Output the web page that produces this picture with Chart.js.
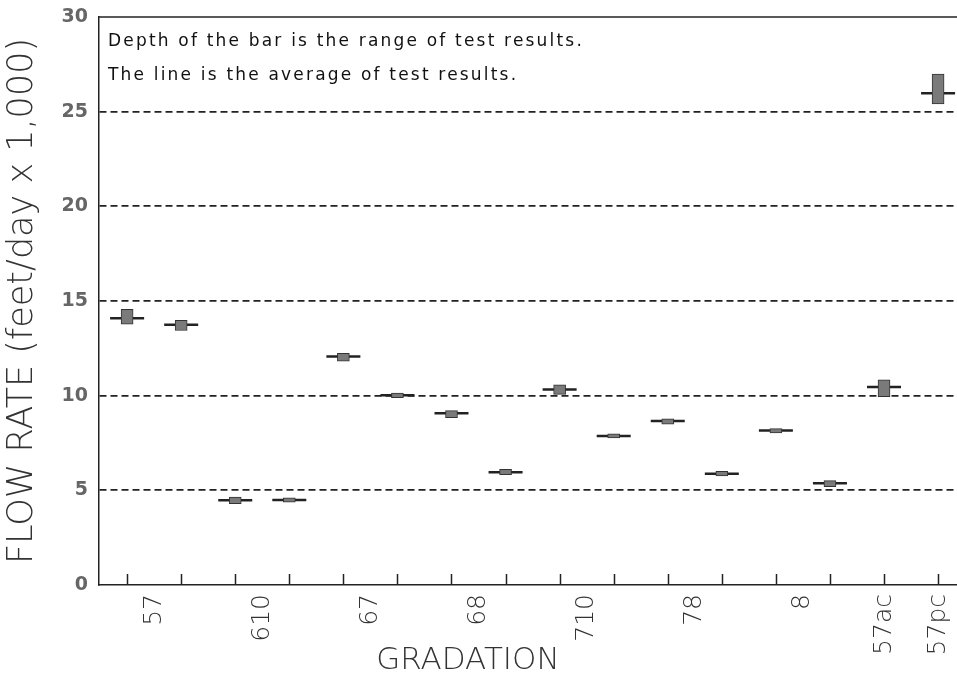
<!DOCTYPE html>
<html>
<head>
<meta charset="utf-8">
<script src="https://cdn.jsdelivr.net/npm/chart.js@4"></script>
<style>
  body { margin: 0; background: #fff; }
  #wrap { width: 957px; height: 677px; }
</style>
</head>
<body>
<div id="wrap"><canvas id="flowChart"></canvas></div>
<script>
// gradations, and how many test bars each one has
const gradations = ["57", "610", "67", "68", "710", "78", "8", "57ac", "57pc"];
const barsPerGradation = [2, 2, 2, 2, 2, 2, 2, 1, 1];

// flow rate (feet/day x 1,000), one entry per bar
const rangeLow  = [13.77, 13.44, 4.30, 4.38, 11.82, 9.90, 8.84, 5.83, 10.07, 7.77, 8.49, 5.76, 8.03, 5.20, 9.95, 25.41];
const rangeHigh = [14.56, 13.98, 4.65, 4.60, 12.24, 10.14, 9.21, 6.11, 10.57, 7.98, 8.77, 6.01, 8.26, 5.51, 10.83, 26.98];
const average   = [14.09, 13.75, 4.47, 4.49, 12.07, 10.02, 9.07, 5.95, 10.32, 7.87, 8.66, 5.88, 8.16, 5.37, 10.46, 25.97];

const yTicks = [0, 5, 10, 15, 20, 25, 30];
const notes = [
  "Depth of the bar is the range of test results.",
  "The line is the average of test results."
];

// label sits in the middle of its group of bars
const labelPos = [];
let start = 0;
barsPerGradation.forEach(n => {
  labelPos.push(start + (n - 1) / 2);
  start += n;
});
const barIdx = rangeLow.map((_, i) => i);

const framePlugin = {
  id: "frame",
  beforeDatasetsDraw(chart) {
    const { ctx, chartArea, scales } = chart;
    ctx.save();
    ctx.strokeStyle = "#222";
    ctx.lineWidth = 1.5;
    // inward tick marks on the x axis
    barIdx.forEach(i => {
      const x = Math.round(scales.x.getPixelForValue(i)) + 0.5;
      ctx.beginPath();
      ctx.moveTo(x, chartArea.bottom);
      ctx.lineTo(x, chartArea.bottom - 11);
      ctx.stroke();
    });
    // top border
    ctx.beginPath();
    ctx.moveTo(chartArea.left, chartArea.top);
    ctx.lineTo(chartArea.right, chartArea.top);
    ctx.stroke();

    // gradation labels, rotated, reading upward
    ctx.fillStyle = "#333";
    ctx.font = "200 25px 'DejaVu Sans'";
    ctx.textAlign = "right";
    ctx.textBaseline = "middle";
    gradations.forEach((g, k) => {
      ctx.save();
      ctx.translate(scales.x.getPixelForValue(labelPos[k]), chartArea.bottom + 9);
      ctx.rotate(-Math.PI / 2);
      ctx.fillText(g, 0, 0);
      ctx.restore();
    });

    // notes
    ctx.fillStyle = "#111";
    ctx.font = "17px 'DejaVu Sans'";
    ctx.textAlign = "left";
    const w = ctx.measureText(notes[0]).width;
    ctx.letterSpacing = ((476 - w) / notes[0].length) + "px";
    ctx.fillText(notes[0], chartArea.left + 9, 42);
    ctx.fillText(notes[1], chartArea.left + 9, 76);
    ctx.letterSpacing = "0px";

    // x axis title
    ctx.fillStyle = "#333";
    ctx.font = "200 31px 'DejaVu Sans'";
    ctx.textAlign = "center";
    ctx.textBaseline = "alphabetic";
    ctx.fillText("GRADATION", chartArea.left + (chartArea.right - chartArea.left) * 0.43, 669);
    ctx.restore();
  }
};

new Chart(document.getElementById("flowChart"), {
  type: "bar",
  data: {
    datasets: [
      {
        type: "bar",
        label: "Range",
        data: barIdx.map(i => ({ x: i, y: [rangeLow[i], rangeHigh[i]] })),
        backgroundColor: "#7a7a7a",
        borderColor: "#333",
        borderWidth: 1,
        borderSkipped: false,
        barThickness: 12,
        order: 0
      },
      {
        type: "line",
        label: "Average",
        data: barIdx.map(i => ({ x: i, y: average[i] })),
        showLine: false,
        pointStyle: "line",
        pointRadius: 17,
        pointBorderWidth: 2.5,
        pointBorderColor: "#222",
        pointBackgroundColor: "#222",
        order: 1
      }
    ]
  },
  options: {
    responsive: true,
    maintainAspectRatio: false,
    animation: false,
    layout: { autoPadding: false, padding: { top: 17, right: 0, left: 0, bottom: 0 } },
    plugins: {
      legend: { display: false },
      tooltip: { enabled: false }
    },
    scales: {
      x: {
        type: "linear",
        min: -0.52,
        max: 15.35,
        offset: false,
        afterFit: scale => {
          scale.height = 92;
          scale.paddingLeft = 0;
          scale.paddingRight = 0;
        },
        grid: { display: false, drawTicks: false },
        border: { display: true, color: "#222", width: 1.5 },
        ticks: { display: false }
      },
      y: {
        min: 0,
        max: 30,
        afterBuildTicks: scale => {
          scale.ticks = yTicks.map(v => ({ value: v }));
        },
        afterFit: scale => {
          scale.width = 99;
          scale.paddingTop = 0;
          scale.paddingBottom = 0;
        },
        grid: {
          drawTicks: false,
          lineWidth: 1.8,
          color: ctx => (ctx.tick && (ctx.tick.value === 0 || ctx.tick.value === 30)) ? "rgba(0,0,0,0)" : "#222"
        },
        border: { display: true, color: "#222", width: 1.5, dash: [7, 4] },
        ticks: {
          padding: 11,
          color: "#666",
          font: { family: "DejaVu Sans", size: 19, weight: "bold" }
        },
        title: {
          display: true,
          text: "FLOW RATE (feet/day x 1,000)",
          color: "#333",
          padding: { top: 2 },
          font: { family: "DejaVu Sans", size: 35, weight: "200" }
        }
      }
    }
  },
  plugins: [framePlugin]
});
</script>
</body>
</html>
